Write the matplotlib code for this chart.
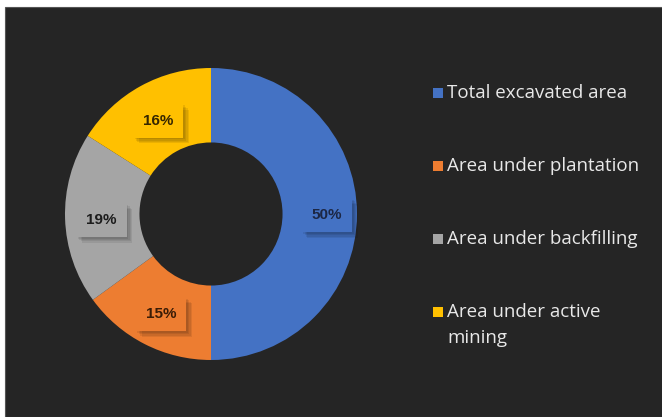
import matplotlib.pyplot as plt
import matplotlib.patches as mpatches
import matplotlib.patheffects as pe
import numpy as np

# Data ===========================================
categories = ['Total excavated area', 'Area under plantation',
              'Area under backfilling', 'Area under active\nmining']
shares = [50, 15, 19, 16]
labels = ['50%', '15%', '19%', '16%']
colors = ['#4472C4', '#ED7D31', '#A5A5A5', '#FFC000']
label_colors = ['#1c2745', '#3a1c06', '#1c1c1c', '#352600']

bg = '#252525'
plt.rcParams['font.family'] = ['Open Sans', 'DejaVu Sans']

# General ========================================
fig = plt.figure(figsize=(6.62, 4.17), dpi=100)
fig.patch.set_facecolor('white')
# dark panel with a thin white margin at top and left
fig.patches.append(mpatches.Rectangle((5 / 662, 0), 1, 1 - 7 / 417,
                                      transform=fig.transFigure,
                                      facecolor=bg, edgecolor='#555555',
                                      linewidth=0.8, zorder=-5))

# Donut ==========================================
cx, cy, r = 211, 214, 146
ax = fig.add_axes([(cx - r) / 662, 1 - (cy + r) / 417, 2 * r / 662, 2 * r / 417])
ax.set_facecolor('none')
ax.set_zorder(2)
wedges, _ = ax.pie(shares, colors=colors, startangle=90, counterclock=False,
                   radius=1, wedgeprops=dict(width=0.51, edgecolor='none'))
ax.set_xlim(-1, 1)
ax.set_ylim(-1, 1)
ax.set_aspect('equal')

# soft shadow: a few stacked faint offsets
shadow = [pe.SimplePatchShadow(offset=(d, -d), shadow_rgbFace='black', alpha=0.08)
          for d in (4, 3, 2, 1)] + [pe.Normal()]

# percentage labels in boxes
for w, lab, col, tc in zip(wedges, labels, colors, label_colors):
    mid = np.deg2rad((w.theta1 + w.theta2) / 2)
    x, y = 0.75 * np.cos(mid), 0.75 * np.sin(mid) - 0.02
    if lab == '50%':
        x, y = 0.795, -0.01
    ax.text(x, y, lab, ha='center', va='center', fontsize=11,
            fontweight='bold', color=tc,
            family=['Liberation Sans', 'DejaVu Sans'],
            bbox=dict(boxstyle='square,pad=0.65', fc=col, ec='none',
                      path_effects=shadow))

# Legend =========================================
legend_y = [93, 166, 239, 312]
for cat, col, ly in zip(categories, colors, legend_y):
    fig.patches.append(mpatches.Rectangle((433 / 662, 1 - (ly + 5) / 417),
                                          10 / 662, 10 / 417,
                                          transform=fig.transFigure,
                                          facecolor=col, edgecolor='none'))
    for k, line in enumerate(cat.split('\n')):
        fig.text(447 / 662, 1 - (ly + 26 * k) / 417, line, ha='left', va='center',
                 fontsize=13.5, color='#e8e8e8')

fig.savefig('out.png', dpi=100, facecolor=fig.get_facecolor())
